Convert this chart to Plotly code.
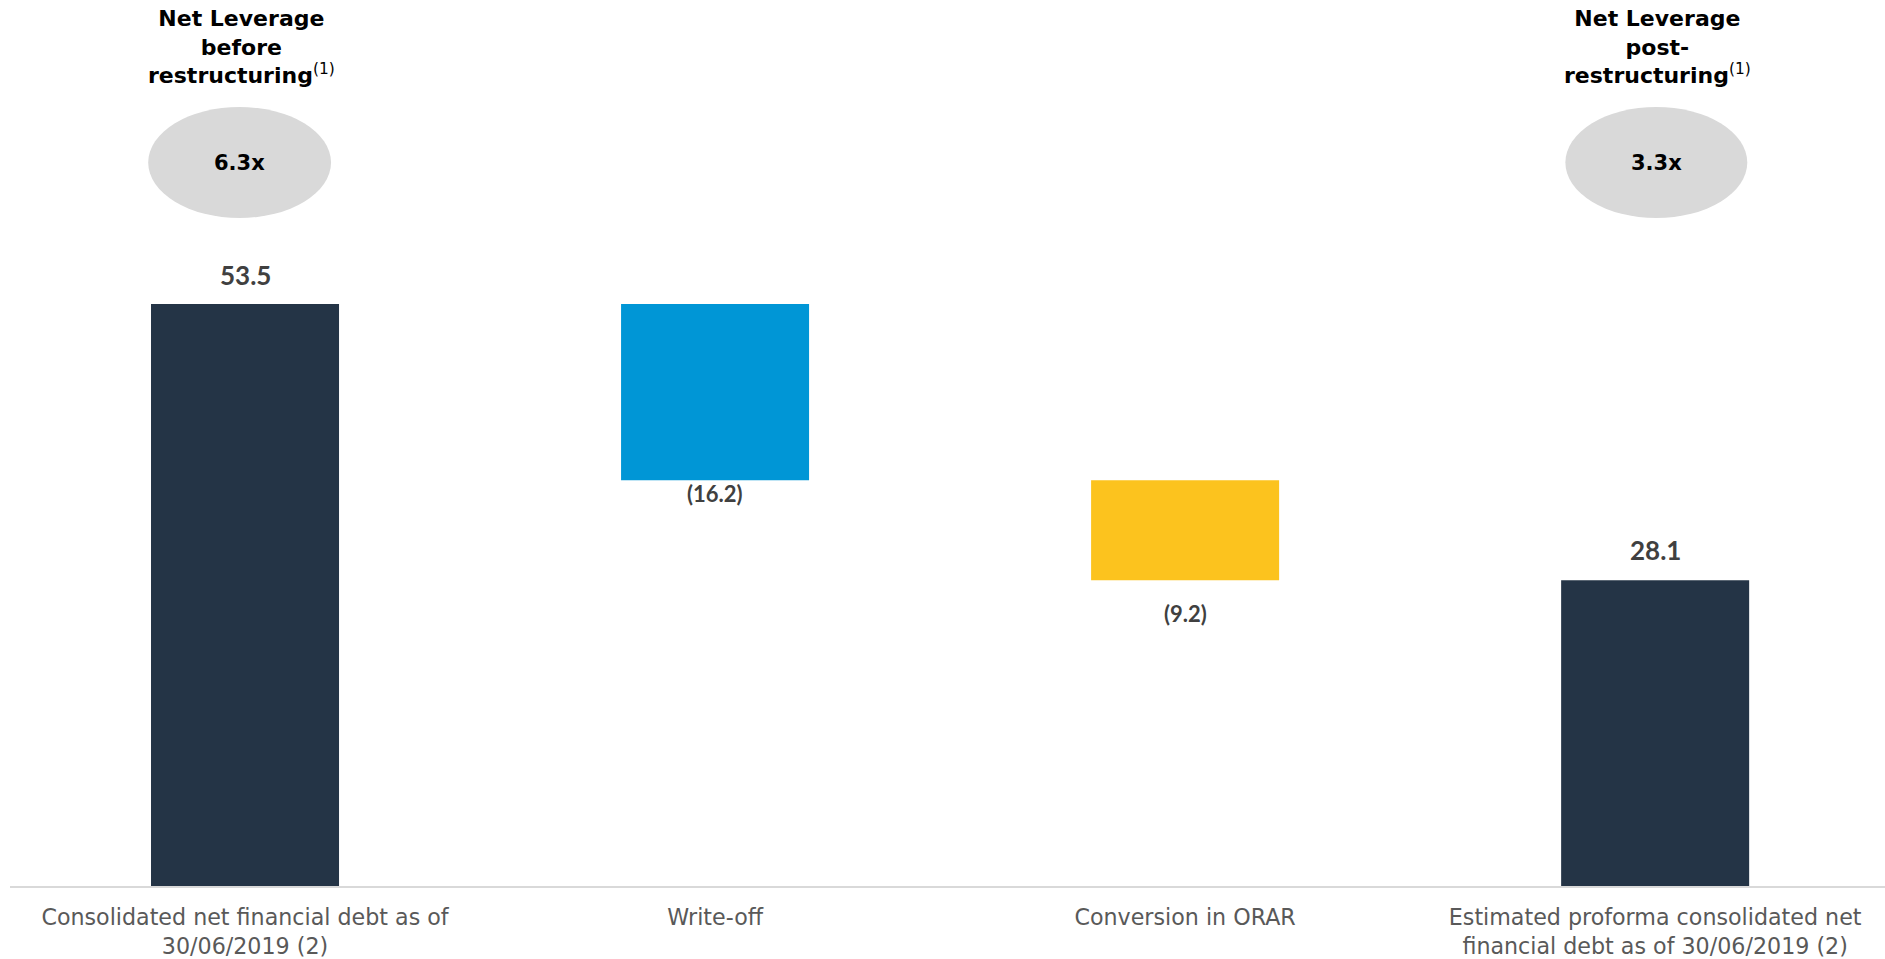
import plotly.graph_objects as go

# ---- data ----
categories = [
    "Consolidated net financial debt as of<br>30/06/2019 (2)",
    "Write-off",
    "Conversion in ORAR",
    "Estimated proforma consolidated net<br>financial debt as of 30/06/2019 (2)",
]
start_value = 53.5
changes = [-16.2, -9.2]
end_value = 28.1
leverage_titles = ["Net Leverage<br>before<br>restructuring", "Net Leverage<br>post-<br>restructuring"]
leverage_values = ["6.3x", "3.3x"]

# ---- derived bars ----
bases, heights, labels = [0], [start_value], [f"{start_value:.1f}"]
running = start_value
for c in changes:
    running += c
    bases.append(running)
    heights.append(abs(c))
    labels.append(f"({abs(c):.1f})")
bases.append(0)
heights.append(end_value)
labels.append(f"{end_value:.1f}")
xs = list(range(len(categories)))

colors = ["#243446", "#0096d6", "#fcc31e", "#243446"]

fig = go.Figure()
fig.add_trace(go.Bar(
    x=xs, y=heights, base=bases, width=0.4,
    marker=dict(color=colors, line=dict(width=0)),
    hoverinfo="skip", showlegend=False,
))

# value labels
annots = []
label_offsets = [11, 2, -18, 12]
for i, (b, h, t) in enumerate(zip(bases, heights, labels)):
    positive = i in (0, len(xs) - 1)
    annots.append(dict(
        x=xs[i], y=(b + h) if positive else b, xref="x", yref="y",
        text=f"<b>{t}</b>", showarrow=False,
        yanchor="bottom" if positive else "top",
        yshift=label_offsets[i],
        font=dict(family="Lato", size=26 if positive else 22, color="#404040"),
    ))

# leverage bubbles & titles
bubble_pos = [(0, -0.206, 0.183), (3, 2.809, 3.196)]
for (idx, x0, x1), title, val in zip(bubble_pos, leverage_titles, leverage_values):
    fig.add_shape(type="circle", xref="x", yref="paper",
                  x0=x0, x1=x1, y0=1 - 218 / 886, y1=1 - 107 / 886,
                  fillcolor="#d9d9d9", line=dict(width=0), layer="below")
    annots.append(dict(
        x=(x0 + x1) / 2, y=1 - 163 / 886, xref="x", yref="paper",
        text=f"<b>{val}</b>", showarrow=False, yanchor="middle",
        font=dict(family="DejaVu Sans", size=21, color="#000000"),
    ))
    annots.append(dict(
        x=(x0 + x1) / 2 + 0.003, y=1 - 47 / 886, xref="x", yref="paper",
        text=f"<b>{title}</b><span style='font-weight:normal'><sup>(1)</sup></span>",
        showarrow=False, yanchor="middle",
        font=dict(family="DejaVu Sans", size=22, color="#000000"),
    ))

fig.update_layout(
    width=1885, height=959,
    margin=dict(l=10, r=0, t=0, b=73),
    plot_bgcolor="white", paper_bgcolor="white",
    annotations=annots,
    xaxis=dict(
        tickmode="array", tickvals=xs, ticktext=categories,
        range=[-0.5, 3.489], showgrid=False, zeroline=False,
        showline=True, linecolor="#d9d9d9", linewidth=2,
        ticks="", ticklabelstandoff=10, automargin=False,
        tickfont=dict(family="Verdana, DejaVu Sans", size=22.2, color="#595959"),
    ),
    yaxis=dict(range=[0, 81.44], visible=False, showgrid=False, zeroline=False,
               automargin=False),
)

fig.write_html("out.html")
